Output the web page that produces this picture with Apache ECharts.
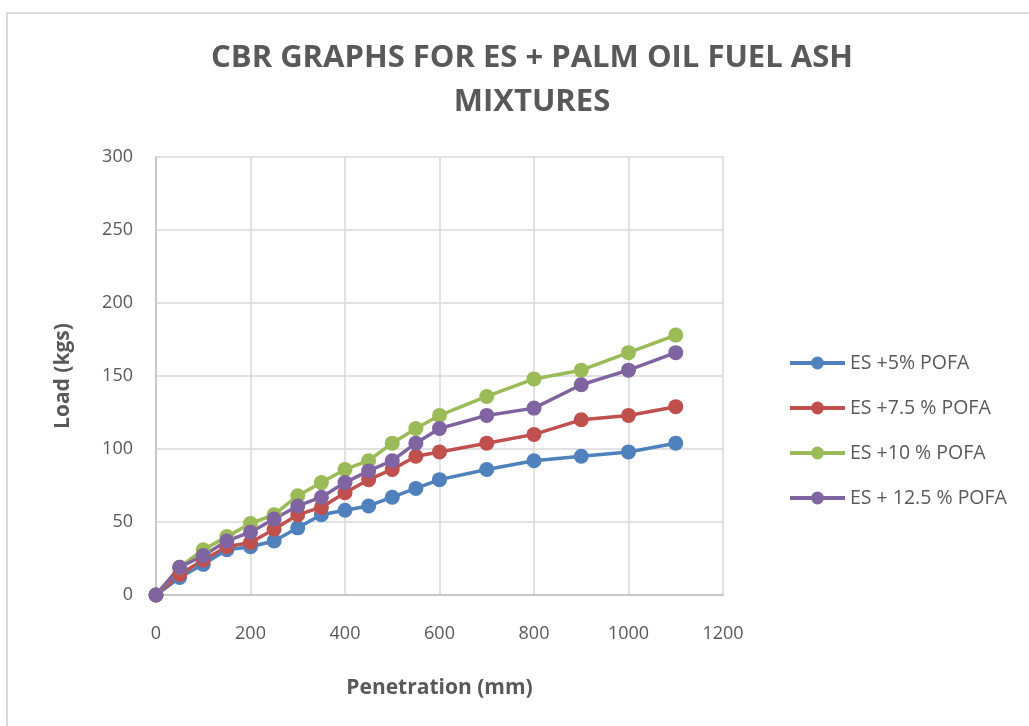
<!DOCTYPE html>
<html>
<head>
<meta charset="utf-8">
<script src="https://cdn.jsdelivr.net/npm/echarts@6/dist/echarts.min.js"></script>
<style>
  html, body { margin: 0; padding: 0; background: #fff; }
  #frame { position: absolute; left: 6px; top: 12px; width: 1040px; height: 730px; border: 2px solid #d9d9d9; box-sizing: border-box; }
  #chart { position: absolute; left: 0; top: 0; width: 1029px; height: 726px; }
</style>
</head>
<body>
<div id="frame"></div>
<div id="chart"></div>
<script>
// Penetration readings (mm)
const penetration = [0, 50, 100, 150, 200, 250, 300, 350, 400, 450, 500, 550, 600, 700, 800, 900, 1000, 1100];

// Load (kgs) for each mixture
const es5 = [0, 12, 21, 31, 33, 37, 46, 55, 58, 61, 67, 73, 79, 86, 92, 95, 98, 104];
const es75 = [0, 14, 24, 33, 36, 45, 55, 60, 70, 79, 86, 95, 98, 104, 110, 120, 123, 129];
const es10 = [0, 19, 31, 40, 49, 55, 68, 77, 86, 92, 104, 114, 123, 136, 148, 154, 166, 178];
const es125 = [0, 19, 27, 37, 43, 52, 61, 67, 77, 85, 92, 104, 114, 123, 128, 144, 154, 166];

const seriesNames = ['ES +5% POFA', 'ES +7.5 % POFA', 'ES +10 % POFA', 'ES + 12.5 % POFA'];
const seriesValues = [es5, es75, es10, es125];
const colors = ['#4f81bd', '#c0504d', '#9bbb59', '#8064a2'];

const FONT = '"Open Sans", "Liberation Sans", sans-serif';
const TXT = '#595959';

const chart = echarts.init(document.getElementById('chart'));

chart.setOption({
  animation: false,
  color: colors,
  title: {
    text: 'CBR GRAPHS FOR ES + PALM OIL FUEL ASH\nMIXTURES',
    left: 527,
    top: 31,
    textAlign: 'center',
    textStyle: { fontFamily: FONT, fontWeight: 'bold', fontSize: 31, color: TXT, lineHeight: 44 }
  },
  legend: {
    orient: 'vertical',
    left: 788,
    top: 353,
    padding: 0,
    itemWidth: 55,
    itemHeight: 16,
    itemGap: 25,
    lineStyle: { width: 4 },
    textStyle: { fontFamily: FONT, fontSize: 19.5, color: TXT },
    data: seriesNames
  },
  grid: { left: 156, right: 306, top: 157, bottom: 131 },
  xAxis: {
    type: 'value',
    min: 0, max: 1200, interval: 200,
    name: 'Penetration (mm)',
    nameLocation: 'middle',
    nameGap: 83,
    nameTextStyle: { fontFamily: FONT, fontWeight: 'bold', fontSize: 21, color: TXT },
    axisLine: { show: true, lineStyle: { color: '#bfbfbf', width: 1.5 } },
    axisTick: { show: false },
    axisLabel: { fontFamily: FONT, fontSize: 18, color: TXT, margin: 30, formatter: v => String(v) },
    splitLine: { show: true, lineStyle: { color: '#d9d9d9', width: 1.5 } }
  },
  yAxis: {
    type: 'value',
    min: 0, max: 300, interval: 50,
    name: 'Load (kgs)',
    nameLocation: 'middle',
    nameGap: 82,
    nameRotate: 90,
    nameTextStyle: { fontFamily: FONT, fontWeight: 'bold', fontSize: 21, color: TXT },
    axisLine: { show: true, lineStyle: { color: '#bfbfbf', width: 1.5 } },
    axisTick: { show: false },
    axisLabel: { fontFamily: FONT, fontSize: 18, color: TXT, margin: 23, formatter: v => String(v) },
    splitLine: { show: true, lineStyle: { color: '#d9d9d9', width: 1.5 } }
  },
  series: seriesValues.map((vals, i) => ({
    name: seriesNames[i],
    type: 'line',
    data: penetration.map((x, j) => [x, vals[j]]),
    symbol: 'circle',
    symbolSize: 15,
    lineStyle: { width: 3.5, color: colors[i] },
    itemStyle: { color: colors[i] }
  }))
});
</script>
</body>
</html>
